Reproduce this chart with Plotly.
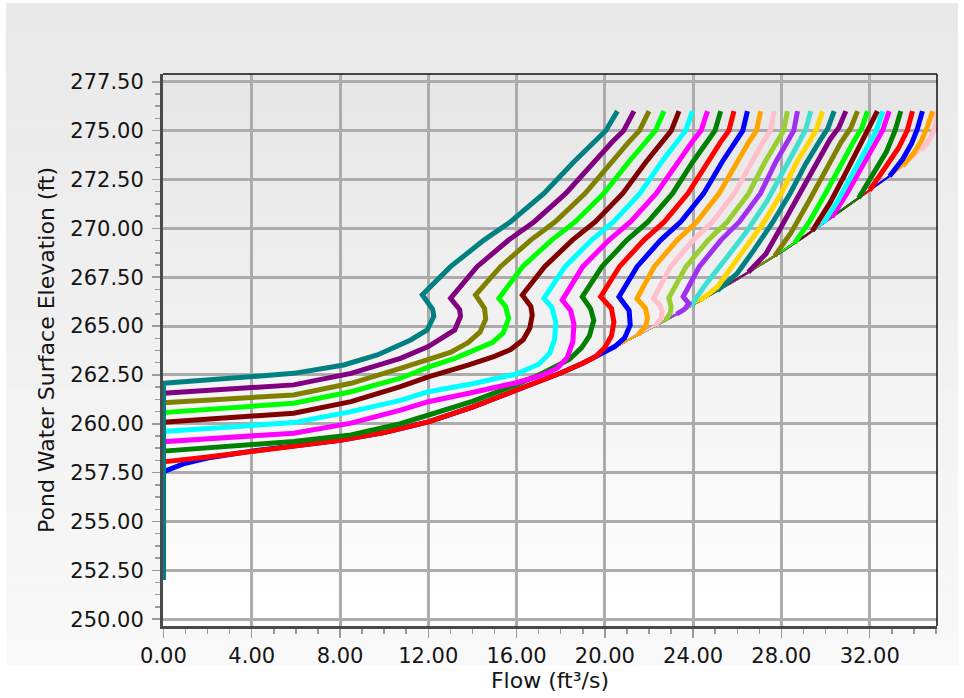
import plotly.graph_objects as go

# ---------------- data ----------------
x_tick_vals = [0, 4, 8, 12, 16, 20, 24, 28, 32]
x_tick_text = ["0.00", "4.00", "8.00", "12.00", "16.00", "20.00", "24.00", "28.00", "32.00"]
y_tick_vals = [250, 252.5, 255, 257.5, 260, 262.5, 265, 267.5, 270, 272.5, 275, 277.5]
y_tick_text = ["250.00", "252.50", "255.00", "257.50", "260.00", "262.50", "265.00",
               "267.50", "270.00", "272.50", "275.00", "277.50"]

# common lower boundary (shared by all curves)
env_flow = [0, 0, 1, 2, 4, 6, 8, 10, 12, 14, 16, 18, 19, 20, 21, 22, 23, 24, 25, 26,
            27, 28, 29, 30, 31, 32, 33, 33.5, 34, 34.6, 35.04]
env_elev = [252.0, 257.55, 257.97, 258.25, 258.6, 258.9, 259.15, 259.55, 260.1, 260.85,
            261.7, 262.6, 263.1, 263.65, 264.25, 264.85, 265.45, 266.1, 266.75, 267.4,
            268.1, 268.8, 269.55, 270.35, 271.15, 271.95, 272.75, 273.2, 273.65, 274.35, 276.0]

# curves, left (top) to right
flow_00 = [0, 0, 5.9, 8.17, 9.69, 11.2, 11.95, 12.25, 12.2, 11.73, 13.01, 14.52, 15.73, 17.24, 18.6, 19.5, 20.04, 20.57]
elev_00 = [252.0, 262.07, 262.58, 263.01, 263.52, 264.29, 264.8, 265.5, 265.85, 266.6, 268.04, 269.4, 270.34, 271.79, 273.41, 274.43, 275.0, 276.0]

flow_01 = [0, 0, 5.9, 8.5, 10.74, 12.0, 12.5, 13.2, 13.46, 13.42, 13.01, 14.21, 15.64, 16.80, 18.23, 19.50, 20.34, 20.85, 21.32]
elev_01 = [252.0, 261.56, 261.99, 262.58, 263.35, 263.95, 264.3, 264.8, 265.5, 265.85, 266.42, 268.04, 269.4, 270.34, 271.79, 273.41, 274.43, 275.0, 276.0]

flow_02 = [0, 0, 5.9, 8.5, 10.74, 12.0, 13.0, 13.8, 14.35, 14.6, 14.55, 14.14, 15.27, 16.64, 17.75, 19.11, 20.30, 21.09, 21.57, 22.00]
elev_02 = [252.0, 261.08, 261.47, 262.07, 262.84, 263.3, 263.65, 264.15, 264.7, 265.35, 265.9, 266.59, 268.04, 269.4, 270.34, 271.79, 273.41, 274.43, 275.0, 276.0]

flow_03 = [0, 0, 5.9, 8.5, 10.74, 12.0, 13.2, 14.22, 14.9, 15.4, 15.64, 15.5, 15.2, 16.27, 17.59, 18.66, 19.96, 21.09, 21.84, 22.29, 22.68]
elev_03 = [252.0, 260.57, 261.05, 261.64, 262.33, 262.9, 263.35, 263.8, 264.15, 264.65, 265.4, 266.0, 266.42, 268.04, 269.4, 270.34, 271.79, 273.41, 274.43, 275.0, 276.0]

flow_04 = [0, 0, 5.9, 8.5, 10.74, 12.0, 13.8, 15.0, 15.73, 16.3, 16.6, 16.71, 16.65, 16.26, 17.27, 18.53, 19.57, 20.81, 21.87, 22.58, 23.01, 23.36]
elev_04 = [252.0, 260.08, 260.54, 261.13, 261.9, 262.4, 263.0, 263.45, 263.8, 264.3, 264.9, 265.55, 266.0, 266.59, 268.04, 269.4, 270.34, 271.79, 273.41, 274.43, 275.0, 276.0]

flow_05 = [0, 0, 5.9, 8.5, 10.74, 12.0, 14.0, 16.0, 17.0, 17.5, 17.72, 17.78, 17.6, 17.24, 18.20, 19.40, 20.40, 21.59, 22.58, 23.25, 23.66, 23.97]
elev_05 = [252.0, 259.6, 260.06, 260.62, 261.2, 261.64, 262.05, 262.55, 263.05, 263.6, 264.3, 265.2, 265.95, 266.42, 268.04, 269.4, 270.34, 271.79, 273.41, 274.43, 275.0, 276.0]

flow_06 = [0, 0, 5.9, 8.5, 10.74, 12.0, 14.0, 16.0, 17.2, 17.85, 18.3, 18.55, 18.6, 18.45, 18.07, 19.00, 20.19, 21.17, 22.33, 23.30, 23.96, 24.36, 24.65]
elev_06 = [252.0, 259.08, 259.52, 260.03, 260.7, 261.13, 261.6, 262.1, 262.5, 262.85, 263.4, 264.2, 265.1, 265.8, 266.33, 268.04, 269.4, 270.34, 271.79, 273.41, 274.43, 275.0, 276.0]

flow_07 = [0, 0, 5.9, 8.5, 10.74, 12.0, 14.0, 16.0, 17.2, 18.4, 18.95, 19.3, 19.5, 19.35, 18.98, 19.87, 21.00, 21.96, 23.07, 23.99, 24.61, 24.99, 25.25]
elev_07 = [252.0, 258.6, 259.09, 259.43, 260.0, 260.45, 261.15, 262.0, 262.6, 263.3, 263.9, 264.5, 265.3, 265.9, 266.5, 268.04, 269.4, 270.34, 271.79, 273.41, 274.43, 275.0, 276.0]

flow_08 = [0, 0, 2, 4, 5.9, 8, 10, 12, 14, 16, 18, 19, 19.6, 20.0, 20.3, 20.41, 20.3, 19.81, 20.66, 21.77, 22.70, 23.77, 24.65, 25.25, 25.62, 25.85]
elev_08 = [252.0, 258.05, 258.3, 258.6, 258.88, 259.15, 259.55, 260.1, 260.85, 261.7, 262.6, 263.1, 263.45, 263.9, 264.5, 265.2, 265.9, 266.5, 268.04, 269.4, 270.34, 271.79, 273.41, 274.43, 275.0, 276.0]

flow_09 = [0, 0, 0.9, 2, 4, 6, 8, 10, 12, 14, 16, 18, 19, 20, 20.45, 20.9, 21.15, 21.1, 20.64, 21.46, 22.53, 23.44, 24.48, 25.32, 25.89, 26.25, 26.46]
elev_09 = [252.0, 257.55, 257.95, 258.25, 258.6, 258.9, 259.15, 259.55, 260.1, 260.85, 261.7, 262.6, 263.1, 263.65, 263.95, 264.4, 265.05, 265.8, 266.5, 268.04, 269.4, 270.34, 271.79, 273.41, 274.43, 275.0, 276.0]

flow_10 = [21.5, 21.85, 21.93, 21.85, 21.45, 22.24, 23.28, 24.17, 25.18, 25.98, 26.53, 26.87, 27.06]
elev_10 = [264.55, 265.0, 265.4, 265.9, 266.4, 268.04, 269.4, 270.34, 271.79, 273.41, 274.43, 275.0, 276.0]

flow_11 = [22.3, 22.55, 22.6, 22.48, 22.2, 22.98, 24.0, 24.88, 25.87, 26.64, 27.17, 27.5, 27.67]
elev_11 = [265.03, 265.4, 265.74, 266.1, 266.4, 268.04, 269.4, 270.34, 271.79, 273.41, 274.43, 275.0, 276.0]

flow_12 = [22.75, 22.98, 23.0, 22.9, 23.68, 24.68, 25.55, 26.52, 27.26, 27.78, 28.1, 28.27]
elev_12 = [265.30, 265.7, 266.0, 266.45, 268.04, 269.4, 270.34, 271.79, 273.41, 274.43, 275.0, 276.0]

flow_13 = [23.25, 23.6, 23.81, 23.55, 24.28, 25.26, 26.1, 27.05, 27.75, 28.25, 28.56, 28.73]
elev_13 = [265.61, 265.85, 266.15, 266.5, 268.04, 269.4, 270.34, 271.79, 273.41, 274.43, 275.0, 276.0]

flow_14 = [23.9, 24.49, 25.55, 26.4, 27.35, 28.1, 28.7, 29.1, 29.33]
elev_14 = [266.04, 267.01, 268.55, 269.8, 271.4, 272.9, 274.2, 275.05, 276.0]

flow_15 = [24.3, 25.1, 26.3, 27.2, 28.0, 28.7, 29.3, 29.6, 29.86]
elev_15 = [266.3, 267.0, 268.9, 270.3, 271.8, 273.4, 274.5, 275.1, 276.0]

flow_16 = [25.1, 26.0, 26.76, 27.6, 28.4, 29.1, 29.75, 30.1, 30.39]
elev_16 = [266.82, 267.7, 268.9, 270.3, 271.8, 273.3, 274.5, 275.1, 276.0]

flow_17 = [26.5, 27.3, 28.0, 28.8, 29.55, 30.2, 30.6, 30.92]
elev_17 = [267.75, 268.7, 270.1, 271.7, 273.25, 274.55, 275.15, 276.0]

flow_18 = [27.7, 28.45, 29.3, 30.05, 30.7, 31.15, 31.45]
elev_18 = [268.59, 269.8, 271.5, 273.0, 274.4, 275.15, 276.0]

flow_19 = [28.6, 29.3, 30.0, 30.7, 31.3, 31.65, 31.9]
elev_19 = [269.25, 270.4, 271.8, 273.3, 274.5, 275.15, 276.0]

flow_20 = [29.4, 30.2, 30.9, 31.5, 31.95, 32.35]
elev_20 = [269.87, 271.3, 272.8, 274.1, 275.0, 276.0]

flow_21 = [29.9, 30.55, 31.25, 31.85, 32.3, 32.6]
elev_21 = [270.27, 271.4, 272.85, 274.1, 275.0, 276.0]

flow_22 = [30.3, 31.0, 31.7, 32.3, 32.6, 32.88]
elev_22 = [270.59, 271.85, 273.25, 274.4, 275.05, 276.0]

flow_23 = [31.5, 32.2, 32.75, 33.15, 33.41]
elev_23 = [271.55, 272.8, 273.9, 275.0, 276.0]

flow_24 = [32.0, 32.7, 33.3, 33.7, 33.94]
elev_24 = [271.95, 273.05, 274.1, 275.0, 276.0]

flow_25 = [32.9, 33.5, 33.9, 34.15, 34.39]
elev_25 = [272.67, 273.55, 274.35, 275.05, 276.0]

flow_26 = [33.5, 34.0, 34.35, 34.6, 34.85]
elev_26 = [273.2, 273.85, 274.5, 275.15, 276.0]

flow_27 = [34.3, 34.6, 34.85, 35.0, 35.04]
elev_27 = [274.0, 274.35, 274.85, 275.4, 276.0]

palette = ["#008080", "#800080", "#808000", "#00ff00", "#800000", "#00ffff", "#ff00ff",
           "#008000", "#ff0000", "#0000ff", "#ffa500", "#ffc0cb", "#9acd32", "#a030f0",
           "#40e0d0", "#ffd700"]

curves = [
    (flow_00, elev_00), (flow_01, elev_01), (flow_02, elev_02), (flow_03, elev_03),
    (flow_04, elev_04), (flow_05, elev_05), (flow_06, elev_06), (flow_07, elev_07),
    (flow_08, elev_08), (flow_09, elev_09), (flow_10, elev_10), (flow_11, elev_11),
    (flow_12, elev_12), (flow_13, elev_13), (flow_14, elev_14), (flow_15, elev_15),
    (flow_16, elev_16), (flow_17, elev_17), (flow_18, elev_18), (flow_19, elev_19),
    (flow_20, elev_20), (flow_21, elev_21), (flow_22, elev_22), (flow_23, elev_23),
    (flow_24, elev_24), (flow_25, elev_25), (flow_26, elev_26), (flow_27, elev_27),
]
n_own_start = 10  # curves that leave the zero-flow axis on their own path

# ---------------- figure ----------------
fig = go.Figure()

for idx in reversed(range(len(curves))):
    fx, fy = curves[idx]
    col = palette[idx % len(palette)]
    if idx >= n_own_start:
        # the part that runs along the common lower boundary
        ex = [f for f in env_flow if f < fx[0]] + [fx[0]]
        ey = [e for f, e in zip(env_flow, env_elev) if f < fx[0]] + [fy[0]]
        fig.add_trace(go.Scatter(x=ex, y=ey, mode="lines",
                                 line=dict(color=col, width=2), hoverinfo="skip"))
    fig.add_trace(go.Scatter(x=fx, y=fy, mode="lines",
                             line=dict(color=col, width=5), hoverinfo="skip"))

# ---- background gradients (style) ----
W, H = 964, 698
L, R, T, B = 163, 27, 74, 72
pw, ph = W - L - R, H - T - B

def px_to_paper_x(px):
    return (px - L) / pw

def px_to_paper_y(py):
    return (H - B - py) / ph

def lerp_col(c0, c1, t):
    v = [round(a + (b - a) * t) for a, b in zip(c0, c1)]
    return "rgb(%d,%d,%d)" % tuple(v)

shapes = []
n_b = 48
ox0, ox1, oy0, oy1 = 6, 958, 3, 665
for i in range(n_b):
    ya = oy0 + (oy1 - oy0) * i / n_b
    yb = oy0 + (oy1 - oy0) * (i + 1) / n_b + 0.6
    shapes.append(dict(type="rect", xref="paper", yref="paper", layer="below",
                       x0=px_to_paper_x(ox0), x1=px_to_paper_x(ox1),
                       y0=px_to_paper_y(yb), y1=px_to_paper_y(ya),
                       fillcolor=lerp_col((233, 233, 233), (249, 249, 249), i / (n_b - 1)),
                       line=dict(width=0)))
for i in range(n_b):
    a = i / n_b
    b = (i + 1) / n_b
    shapes.append(dict(type="rect", xref="x domain", yref="y domain", layer="below",
                       x0=0, x1=1, y0=1 - b - 0.002, y1=1 - a,
                       fillcolor=lerp_col((230, 230, 230), (255, 255, 255), i / (n_b - 1)),
                       line=dict(width=0)))
# thin top and right frame
shapes.append(dict(type="line", xref="x domain", yref="y domain", x0=0, x1=1, y0=1, y1=1,
                   line=dict(color="#111111", width=1.5), layer="above"))
shapes.append(dict(type="line", xref="x domain", yref="y domain", x0=1, x1=1, y0=0, y1=1,
                   line=dict(color="#111111", width=1.5), layer="above"))

grid_kw = dict(showgrid=True, gridcolor="#acacac", gridwidth=3,
               zeroline=False, showline=True, linewidth=3, linecolor="#4a4a4a",
               ticks="outside", tickcolor="#9a9a9a", tickwidth=1.5,
               automargin=False)

fig.update_layout(
    width=W, height=H,
    margin=dict(l=L, r=R, t=T, b=B, pad=0),
    paper_bgcolor="white", plot_bgcolor="rgba(0,0,0,0)",
    showlegend=False,
    font=dict(family="DejaVu Sans", size=21, color="#141414"),
    shapes=shapes,
    xaxis=dict(range=[-0.02, 35.05], tickmode="array", tickvals=x_tick_vals,
               ticktext=x_tick_text, ticklen=9,
               minor=dict(dtick=1, tick0=0, ticks="outside", ticklen=5,
                          tickcolor="#9a9a9a", showgrid=False),
               title=dict(text="Flow (ft³/s)", font=dict(size=22), standoff=6),
               **grid_kw),
    yaxis=dict(range=[249.65, 277.9], tickmode="array", tickvals=y_tick_vals,
               ticktext=y_tick_text, ticklen=8, ticklabelstandoff=4,
               minor=dict(dtick=0.625, tick0=250, ticks="outside", ticklen=5,
                          tickcolor="#9a9a9a", showgrid=False),
               title=dict(text="Pond Water Surface Elevation (ft)", font=dict(size=22),
                          standoff=10),
               **grid_kw),
)

fig.write_html("out.html",
               config={"displayModeBar": False, "staticPlot": True},
               post_script="document.body.style.margin='0';document.body.style.overflow='hidden';")
